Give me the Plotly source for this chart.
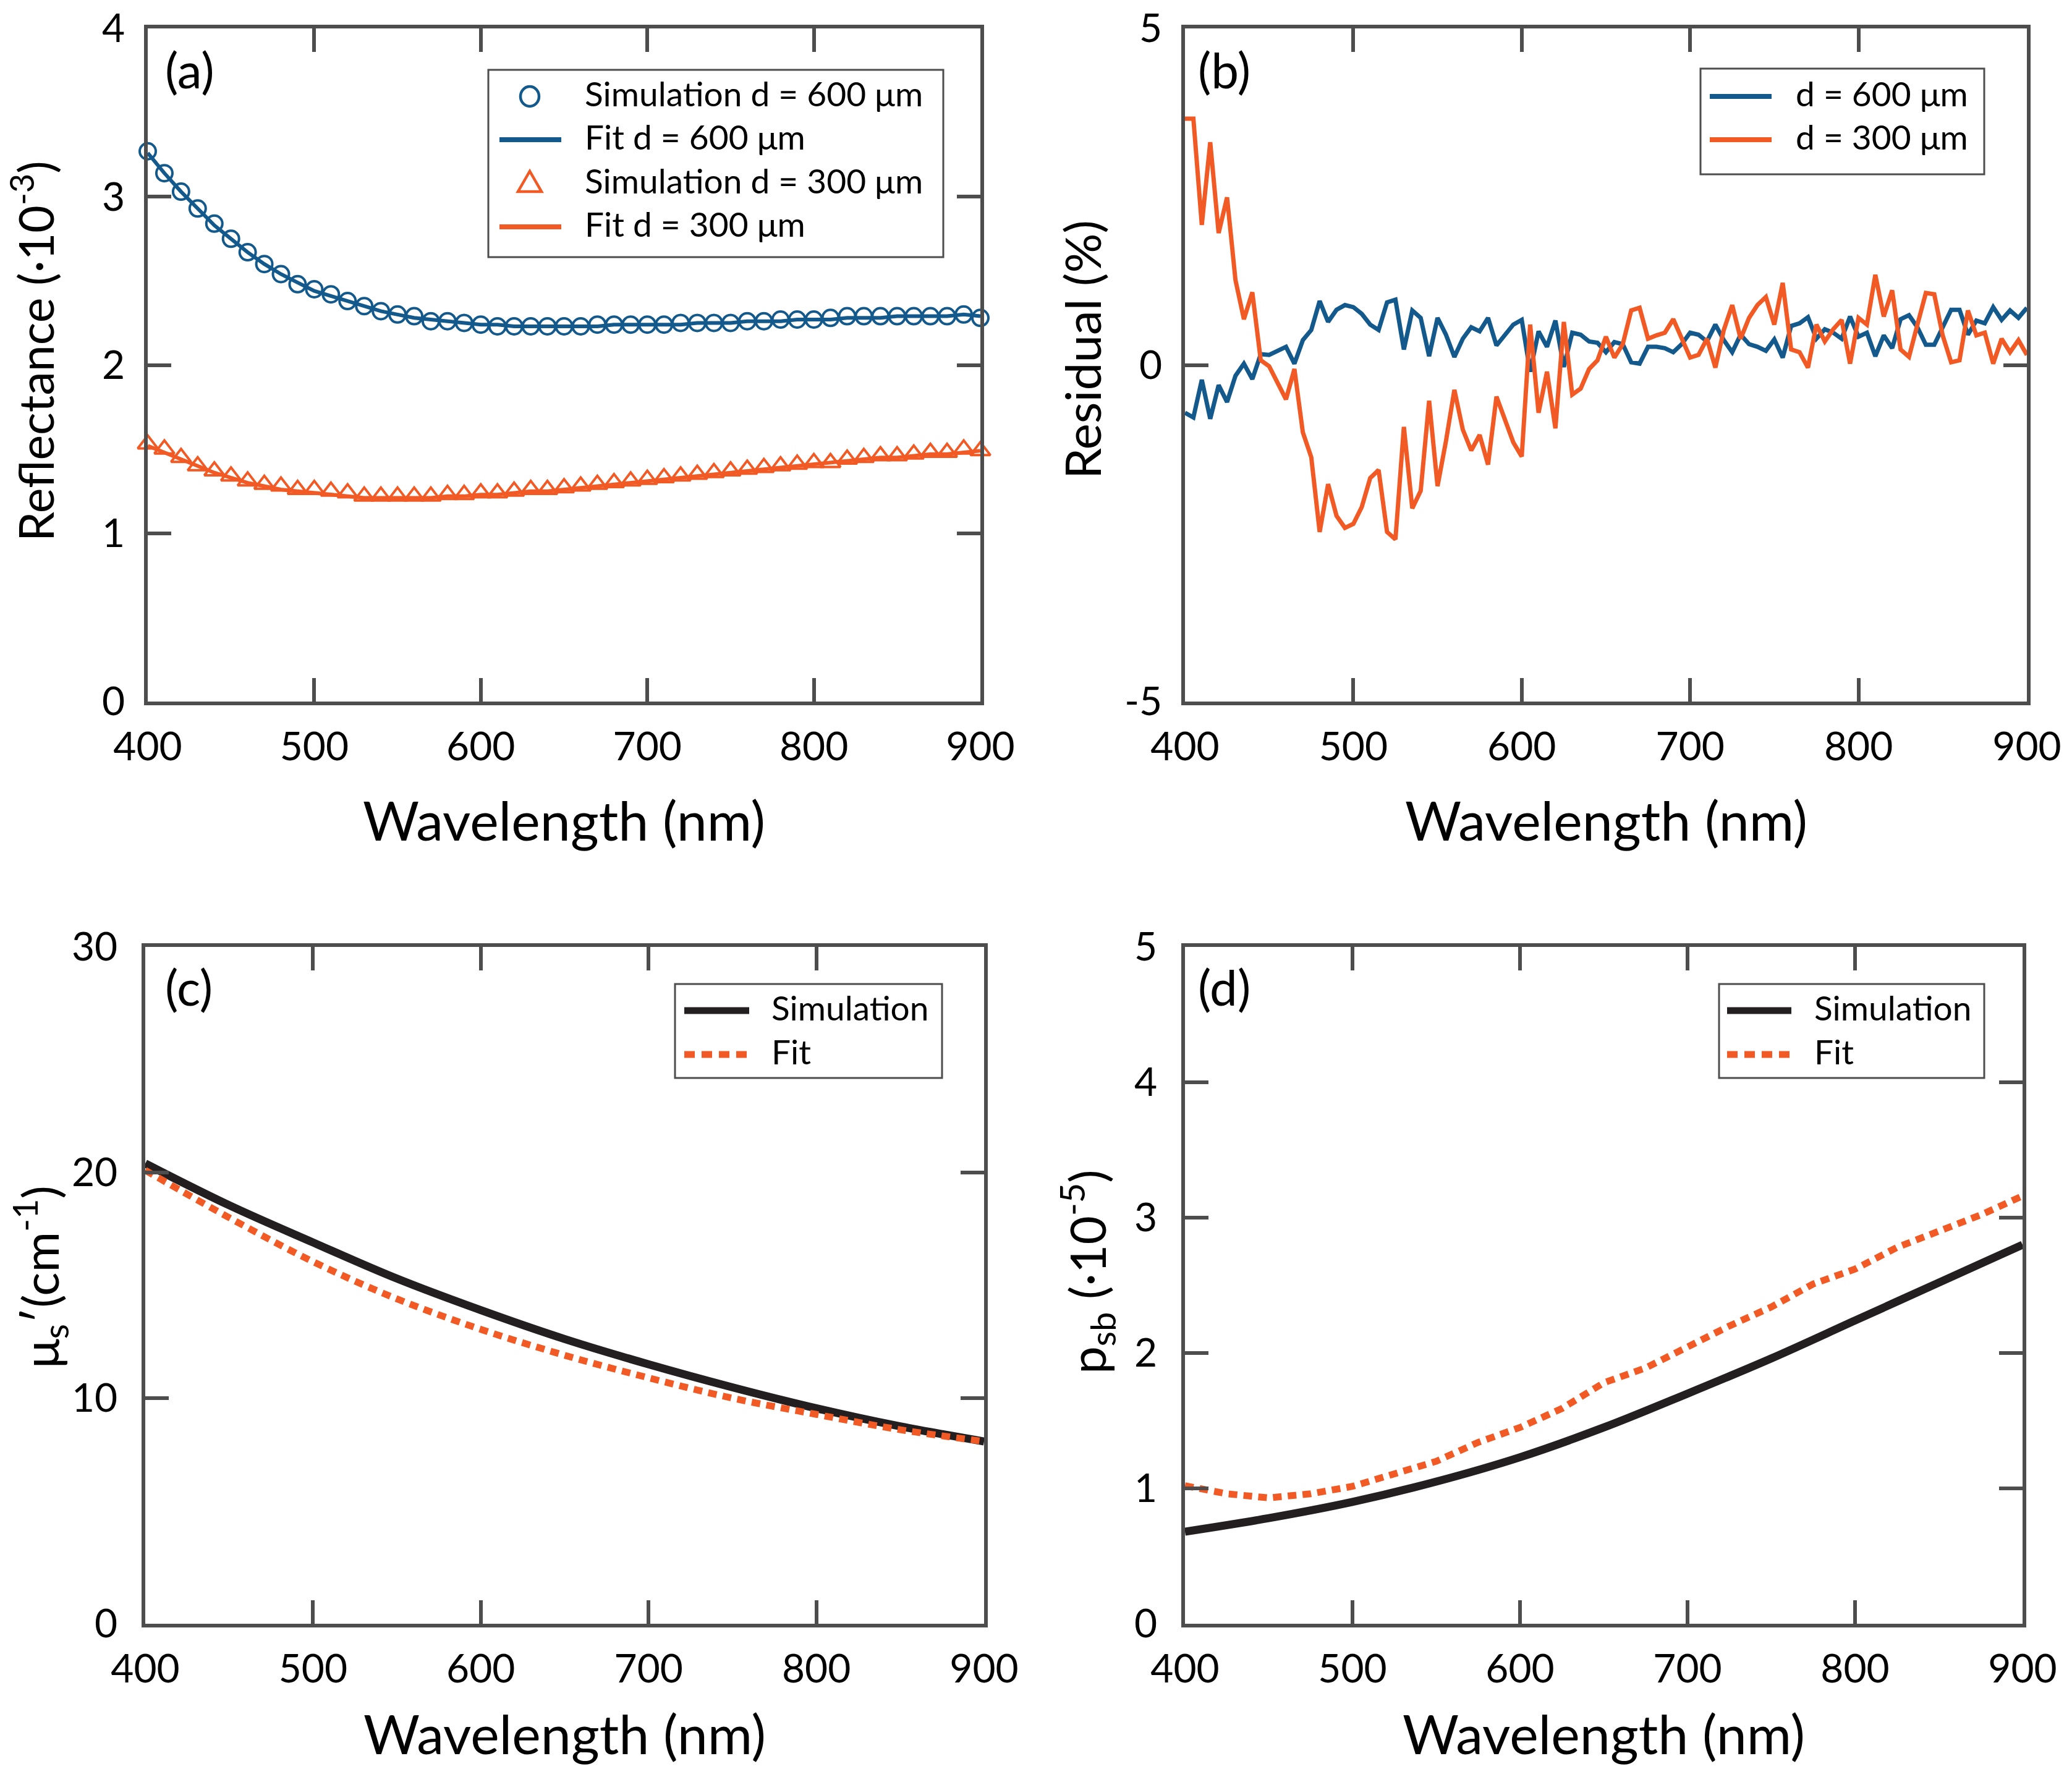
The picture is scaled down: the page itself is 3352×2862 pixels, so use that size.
import plotly.graph_objects as go

# ---------------- data ----------------
wl10 = list(range(400, 901, 10))
sim600 = [3.27, 3.14, 3.03, 2.93, 2.84, 2.75, 2.67, 2.60, 2.54, 2.48,
          2.45, 2.42, 2.38, 2.35, 2.32, 2.30, 2.29, 2.26, 2.26, 2.25,
          2.24, 2.23, 2.23, 2.23, 2.23, 2.23, 2.23, 2.24, 2.24, 2.24,
          2.24, 2.24, 2.25, 2.25, 2.25, 2.25, 2.26, 2.26, 2.27, 2.27,
          2.27, 2.28, 2.29, 2.29, 2.29, 2.29, 2.29, 2.29, 2.29, 2.30,
          2.28]
fit600 = [3.26, 3.14, 3.03, 2.93, 2.83, 2.75, 2.67, 2.60, 2.54, 2.49,
          2.44, 2.41, 2.38, 2.35, 2.32, 2.30, 2.28, 2.27, 2.26, 2.25,
          2.24, 2.24, 2.23, 2.23, 2.23, 2.23, 2.23, 2.23, 2.24, 2.24,
          2.24, 2.24, 2.24, 2.25, 2.25, 2.25, 2.26, 2.26, 2.26, 2.27,
          2.27, 2.27, 2.28, 2.28, 2.28, 2.29, 2.29, 2.29, 2.29, 2.30,
          2.29]
sim300 = [1.53, 1.50, 1.45, 1.40, 1.37, 1.34, 1.31, 1.29, 1.28, 1.26,
          1.26, 1.25, 1.24, 1.22, 1.22, 1.22, 1.22, 1.22, 1.23, 1.23,
          1.24, 1.24, 1.25, 1.26, 1.26, 1.27, 1.28, 1.29, 1.30, 1.31,
          1.32, 1.33, 1.34, 1.35, 1.36, 1.37, 1.38, 1.39, 1.40, 1.41,
          1.42, 1.42, 1.44, 1.45, 1.46, 1.46, 1.47, 1.48, 1.48, 1.50,
          1.49]
fit300 = [1.52, 1.48, 1.44, 1.40, 1.36, 1.33, 1.30, 1.28, 1.26, 1.25,
          1.24, 1.23, 1.22, 1.21, 1.21, 1.21, 1.21, 1.21, 1.22, 1.22,
          1.23, 1.23, 1.24, 1.25, 1.25, 1.26, 1.27, 1.28, 1.29, 1.30,
          1.31, 1.32, 1.33, 1.34, 1.35, 1.36, 1.37, 1.38, 1.39, 1.40,
          1.41, 1.42, 1.43, 1.44, 1.45, 1.45, 1.46, 1.47, 1.47, 1.48,
          1.49]

wl5 = list(range(400, 901, 5))
res600 = [-0.71, -0.78, -0.22, -0.80, -0.30, -0.55, -0.16, 0.02, -0.21, 0.16,
          0.15, 0.21, 0.27, 0.02, 0.37, 0.52, 0.95, 0.64, 0.82, 0.89,
          0.86, 0.76, 0.60, 0.52, 0.93, 0.97, 0.23, 0.81, 0.70, 0.13,
          0.70, 0.45, 0.12, 0.39, 0.56, 0.50, 0.70, 0.29, 0.44, 0.60,
          0.67, -0.10, 0.50, 0.27, 0.66, -0.03, 0.48, 0.45, 0.35, 0.33,
          0.19, 0.34, 0.31, 0.04, 0.02, 0.27, 0.27, 0.25, 0.19, 0.31,
          0.48, 0.45, 0.35, 0.60, 0.37, 0.19, 0.45, 0.31, 0.27, 0.21,
          0.38, 0.11, 0.58, 0.62, 0.71, 0.39, 0.53, 0.48, 0.39, 0.72,
          0.42, 0.48, 0.13, 0.44, 0.25, 0.68, 0.74, 0.56, 0.30, 0.30,
          0.56, 0.82, 0.82, 0.45, 0.66, 0.62, 0.86, 0.67, 0.81, 0.70,
          0.85]
res300 = [3.66, 3.66, 2.08, 3.31, 1.96, 2.49, 1.26, 0.68, 1.08, 0.07,
          -0.02, -0.26, -0.51, -0.06, -1.00, -1.37, -2.48, -1.77, -2.24, -2.42,
          -2.36, -2.11, -1.68, -1.56, -2.48, -2.59, -0.92, -2.13, -1.87, -0.53,
          -1.80, -1.13, -0.37, -0.96, -1.27, -1.04, -1.48, -0.47, -0.80, -1.15,
          -1.36, 0.60, -0.71, -0.10, -0.94, 0.64, -0.44, -0.35, -0.06, 0.07,
          0.42, 0.11, 0.31, 0.81, 0.85, 0.39, 0.44, 0.48, 0.68, 0.39,
          0.11, 0.15, 0.39, -0.04, 0.52, 0.89, 0.39, 0.70, 0.89, 1.01,
          0.60, 1.22, 0.23, 0.19, -0.04, 0.60, 0.35, 0.53, 0.67, 0.02,
          0.70, 0.60, 1.34, 0.72, 1.11, 0.23, 0.12, 0.60, 1.07, 1.05,
          0.44, 0.04, 0.07, 0.81, 0.44, 0.48, 0.02, 0.39, 0.19, 0.37,
          0.15]

wl50 = [400, 450, 500, 550, 600, 650, 700, 750, 800, 850, 900]
mus_sim = [20.4, 18.55, 16.9, 15.3, 13.9, 12.62, 11.5, 10.48, 9.55, 8.75, 8.08]
mus_fit = [20.1, 18.0, 16.05, 14.4, 13.05, 11.9, 10.9, 10.0, 9.28, 8.6, 8.08]

psb_sim = [0.68, 0.78, 0.90, 1.05, 1.23, 1.45, 1.70, 1.96, 2.24, 2.52, 2.80]
wl25 = list(range(400, 901, 25))
psb_fit = [1.02, 0.96, 0.93, 0.96, 1.015, 1.11, 1.20, 1.34, 1.45, 1.59, 1.78,
           1.89, 2.05, 2.20, 2.34, 2.51, 2.62, 2.78, 2.90, 3.02, 3.16]

x_ticks = [400, 500, 600, 700, 800, 900]

# ---------------- style ----------------
W, H = 3352, 2862
FONT = "Lato"
BLUE = "#14598C"
ORANGE = "#F15A24"
BLACK = "#231F20"
FRAME = "#4D4D4D"


def px(x):
    return x / W


def py(y):
    return 1 - y / H


panels = {
    "a": (231, 1578, 38, 1127),
    "b": (1909, 3271, 38, 1127),
    "c": (227, 1584, 1524, 2619),
    "d": (1909, 3264, 1524, 2619),
}

fig = go.Figure()

# (a)
fig.add_trace(go.Scatter(x=wl10, y=sim600, mode="markers", xaxis="x", yaxis="y",
                         marker=dict(symbol="circle-open", size=26, color=BLUE,
                                     line=dict(width=4, color=BLUE)),
                         cliponaxis=False, showlegend=False))
fig.add_trace(go.Scatter(x=wl10, y=fit600, mode="lines", xaxis="x", yaxis="y",
                         line=dict(color=BLUE, width=6), showlegend=False))
fig.add_trace(go.Scatter(x=wl10, y=sim300, mode="markers", xaxis="x", yaxis="y",
                         marker=dict(symbol="triangle-up-open", size=28, color=ORANGE,
                                     line=dict(width=4, color=ORANGE)),
                         cliponaxis=False, showlegend=False))
fig.add_trace(go.Scatter(x=wl10, y=fit300, mode="lines", xaxis="x", yaxis="y",
                         line=dict(color=ORANGE, width=6), showlegend=False))

# (b)
fig.add_trace(go.Scatter(x=wl5, y=res600, mode="lines", xaxis="x2", yaxis="y2",
                         line=dict(color=BLUE, width=7), showlegend=False))
fig.add_trace(go.Scatter(x=wl5, y=res300, mode="lines", xaxis="x2", yaxis="y2",
                         line=dict(color=ORANGE, width=7), showlegend=False))

# (c)
fig.add_trace(go.Scatter(x=wl50, y=mus_sim, mode="lines", xaxis="x3", yaxis="y3",
                         line=dict(color=BLACK, width=13, shape="spline"), showlegend=False))
fig.add_trace(go.Scatter(x=wl50, y=mus_fit, mode="lines", xaxis="x3", yaxis="y3",
                         line=dict(color=ORANGE, width=11, shape="spline", dash="14px,10px"),
                         showlegend=False))

# (d)
fig.add_trace(go.Scatter(x=wl50, y=psb_sim, mode="lines", xaxis="x4", yaxis="y4",
                         line=dict(color=BLACK, width=13, shape="spline"), showlegend=False))
fig.add_trace(go.Scatter(x=wl25, y=psb_fit, mode="lines", xaxis="x4", yaxis="y4",
                         line=dict(color=ORANGE, width=11, dash="14px,10px"),
                         showlegend=False))

axis_common = dict(showline=True, linecolor=FRAME, linewidth=6, mirror="ticks",
                   ticks="inside", ticklen=38, tickwidth=6, tickcolor=FRAME,
                   showgrid=False, zeroline=False, automargin=False,
                   ticklabeloverflow="allow",
                   tickfont=dict(family=FONT, size=64, color="black"))

yinfo = {
    "a": ([0, 4], [0, 1, 2, 3, 4]),
    "b": ([-5, 5], [-5, 0, 5]),
    "c": ([0, 30], [0, 10, 20, 30]),
    "d": ([0, 5], [0, 1, 2, 3, 4, 5]),
}
suffix = {"a": "", "b": "2", "c": "3", "d": "4"}
layout_axes = {}
for k, (x0, x1, y0, y1) in panels.items():
    s = suffix[k]
    layout_axes["xaxis" + s] = dict(axis_common, domain=[px(x0), px(x1)], range=[400, 900],
                                    tickvals=x_ticks, anchor="y" + s,
                                    ticklabelstandoff=12)
    rng, tv = yinfo[k]
    layout_axes["yaxis" + s] = dict(axis_common, domain=[py(y1), py(y0)], range=rng,
                                    tickvals=tv, ticktext=[str(v) for v in tv],
                                    anchor="x" + s,
                                    ticklabelstandoff=18 if k in "ab" else 26)

annotations = []
shapes = []


def text(x, y, t, size, xanchor="center", angle=0):
    annotations.append(dict(x=px(x), y=py(y), xref="paper", yref="paper", text=t,
                            showarrow=False, xanchor=xanchor, yanchor="middle",
                            textangle=angle,
                            font=dict(family=FONT, size=size, color="black")))


# axis titles
for k, (x0, x1, y0, y1) in panels.items():
    text((x0 + x1) / 2, 1318 if k in "ab" else 2796, "Wavelength (nm)", 88)
text(44, 560, "Reflectance (·10<sup>-3</sup>)", 77, angle=-90)
text(1742, 558, "Residual (%)", 80, angle=-90)
text(56, 2058, "μ<sub>s</sub>′(cm<sup>-1</sup>)", 80, angle=-90)
text(1750, 2050, "p<sub>sb</sub> (·10<sup>-5</sup>)", 80, angle=-90)

# panel labels
text(257, 104, "(a)", 80, xanchor="left")
text(1928, 104, "(b)", 80, xanchor="left")
text(257, 1588, "(c)", 80, xanchor="left")
text(1928, 1588, "(d)", 80, xanchor="left")


def box(x0, x1, y0, y1):
    shapes.append(dict(type="rect", xref="paper", yref="paper",
                       x0=px(x0), x1=px(x1), y0=py(y1), y1=py(y0),
                       line=dict(color=FRAME, width=3), fillcolor="white", layer="above"))


def lline(x0, x1, y, color, width, dash="solid"):
    shapes.append(dict(type="line", xref="paper", yref="paper",
                       x0=px(x0), x1=px(x1), y0=py(y), y1=py(y),
                       line=dict(color=color, width=width, dash=dash), layer="above"))


LEG = 55
DY = -7  # text optical centering
# legend (a)
box(782, 1518, 105, 408)
shapes.append(dict(type="circle", xref="paper", yref="paper",
                   x0=px(849 - 15), x1=px(849 + 15), y0=py(148 + 16), y1=py(148 - 16),
                   line=dict(color=BLUE, width=4.5), layer="above"))
lline(800, 900, 218, BLUE, 8)
tri = "M {},{} L {},{} L {},{} Z".format(px(849), py(288 - 19), px(849 - 19), py(288 + 14),
                                         px(849 + 19), py(288 + 14))
shapes.append(dict(type="path", xref="paper", yref="paper", path=tri,
                   line=dict(color=ORANGE, width=4.5), layer="above"))
lline(800, 900, 359, ORANGE, 8)
text(936, 150 + DY, "Simulation d = 600 μm", LEG, xanchor="left")
text(936, 220 + DY, "Fit d = 600 μm", LEG, xanchor="left")
text(936, 291 + DY, "Simulation d = 300 μm", LEG, xanchor="left")
text(936, 361 + DY, "Fit d = 300 μm", LEG, xanchor="left")

# legend (b)
box(2743, 3202, 103, 274)
lline(2758, 2858, 148, BLUE, 8)
lline(2758, 2858, 218, ORANGE, 8)
text(2895, 150 + DY, "d = 600 μm", LEG, xanchor="left")
text(2895, 220 + DY, "d = 300 μm", LEG, xanchor="left")

# legend (c)
box(1084, 1516, 1584, 1736)
lline(1099, 1204, 1627, BLACK, 11)
lline(1099, 1204, 1698, ORANGE, 11, dash="17px,11px")
text(1238, 1629 + DY, "Simulation", LEG, xanchor="left")
text(1238, 1700 + DY, "Fit", LEG, xanchor="left")

# legend (d)
box(2773, 3202, 1584, 1736)
lline(2786, 2890, 1627, BLACK, 11)
lline(2786, 2890, 1698, ORANGE, 11, dash="17px,11px")
text(2925, 1629 + DY, "Simulation", LEG, xanchor="left")
text(2925, 1700 + DY, "Fit", LEG, xanchor="left")

fig.update_layout(width=W, height=H, margin=dict(l=0, r=0, t=0, b=0),
                  paper_bgcolor="white", plot_bgcolor="white",
                  font=dict(family=FONT, color="black"),
                  annotations=annotations, shapes=shapes, showlegend=False,
                  **layout_axes)

fig.write_html("out.html")
